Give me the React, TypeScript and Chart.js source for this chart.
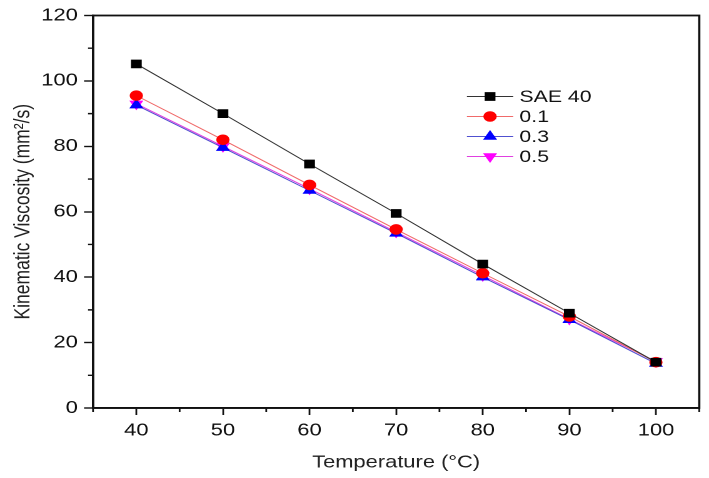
import { useEffect, useRef } from "react";
import { Chart, Plugin } from "chart.js/auto";
import { drawPoint } from "chart.js/helpers";

const temperatures = [40, 50, 60, 70, 80, 90, 100];
const sae40 = [105.2, 90, 74.6, 59.5, 44, 29, 14];
const conc01 = [95.5, 82, 68.2, 54.6, 41.2, 28, 14];
const conc03 = [92.6, 79.6, 66.5, 53.4, 40, 27, 13.6];
const conc05 = [93, 80, 67, 53.8, 40.5, 27.2, 14.2];

const xTicks = [40, 50, 60, 70, 80, 90, 100];
const xMinorTicks = [35, 45, 55, 65, 75, 85, 95, 105];
const yTicks = [0, 20, 40, 60, 80, 100, 120];
const yMinorTicks = [10, 30, 50, 70, 90, 110];

const FONT = "'Liberation Sans', Arial, sans-serif";
// the reference picture is stretched sideways, so the canvas is drawn narrower and scaled by css
const STRETCH = 1.25;
const W = 709;
const H = 478;
const INNER_W = Math.round(W / STRETCH);

// outer box + minor ticks
const framePlugin: Plugin = {
  id: "frame",
  afterDraw(chart) {
    const { ctx, chartArea } = chart;
    const x = chart.scales.x;
    const y = chart.scales.y;
    ctx.save();
    ctx.strokeStyle = "#111";
    ctx.lineWidth = 1.8;
    ctx.strokeRect(chartArea.left, chartArea.top, chartArea.right - chartArea.left, chartArea.bottom - chartArea.top);
    ctx.lineWidth = 1.4;
    ctx.beginPath();
    xMinorTicks.forEach((v) => {
      const px = x.getPixelForValue(v);
      ctx.moveTo(px, chartArea.bottom);
      ctx.lineTo(px, chartArea.bottom + 4);
    });
    yMinorTicks.forEach((v) => {
      const py = y.getPixelForValue(v);
      ctx.moveTo(chartArea.left, py);
      ctx.lineTo(chartArea.left - 4, py);
    });
    ctx.stroke();
    ctx.restore();
  },
};

// origin-style legend: line with marker in the middle
const legendPlugin: Plugin = {
  id: "lineLegend",
  afterDraw(chart) {
    const { ctx, chartArea } = chart;
    const x0 = chartArea.left + 299;
    const y0 = chartArea.top + 81;
    ctx.save();
    ctx.font = `17px ${FONT}`;
    ctx.textBaseline = "middle";
    chart.data.datasets.forEach((ds: any, i) => {
      const yy = y0 + i * 20;
      ctx.strokeStyle = ds.borderColor;
      ctx.lineWidth = 1;
      ctx.beginPath();
      ctx.moveTo(x0, yy);
      ctx.lineTo(x0 + 37, yy);
      ctx.stroke();
      ctx.fillStyle = ds.pointBackgroundColor;
      ctx.strokeStyle = ds.pointBackgroundColor;
      drawPoint(ctx, { pointStyle: ds.pointStyle, radius: ds.pointRadius, rotation: ds.pointRotation || 0, borderWidth: 1 }, x0 + 18.5, yy);
      ctx.fillStyle = "#111";
      ctx.fillText(ds.label, x0 + 42, yy + 1);
    });
    ctx.restore();
  },
};

export default function App() {
  const canvasRef = useRef<HTMLCanvasElement>(null);

  useEffect(() => {
    if (!canvasRef.current) return;
    const series = [
      { label: "SAE 40", data: sae40, line: "#333333", fill: "#000000", style: "rect", rot: 0, r: 5.4 },
      { label: "0.1", data: conc01, line: "#f06a6a", fill: "#ff0000", style: "circle", rot: 0, r: 4.8 },
      { label: "0.3", data: conc03, line: "#5050d0", fill: "#0000ff", style: "triangle", rot: 0, r: 5.5 },
      { label: "0.5", data: conc05, line: "#e040e0", fill: "#ff00ff", style: "triangle", rot: 180, r: 5.5 },
    ];
    const chart = new Chart(canvasRef.current, {
      type: "line",
      data: {
        datasets: series.map((s) => ({
          label: s.label,
          data: temperatures.map((t, i) => ({ x: t, y: s.data[i] })),
          borderColor: s.line,
          borderWidth: 1,
          pointStyle: s.style as any,
          pointRotation: s.rot,
          pointRadius: s.r,
          pointBackgroundColor: s.fill,
          pointBorderColor: s.fill,
          pointBorderWidth: 1,
          tension: 0,
        })),
      },
      options: {
        animation: false,
        responsive: false,
        maintainAspectRatio: false,
        devicePixelRatio: 2,
        layout: { padding: { top: 15, right: 7.8, left: 0, bottom: 0 } },
        plugins: {
          legend: { display: false },
          tooltip: { enabled: false },
        },
        scales: {
          x: {
            type: "linear",
            min: 35,
            max: 105,
            afterBuildTicks: (scale) => {
              scale.ticks = xTicks.map((v) => ({ value: v }));
            },
            afterFit: (scale) => {
              scale.height = 70;
            },
            grid: { drawOnChartArea: false, tickLength: 7, tickWidth: 1.4, tickColor: "#111" },
            border: { color: "#111", width: 1.8 },
            ticks: { font: { family: FONT, size: 17.5 }, color: "#111", padding: 5, maxRotation: 0 },
            title: {
              display: true,
              text: "Temperature (°C)",
              font: { family: FONT, size: 17.5 },
              color: "#222",
              padding: { top: 1, bottom: 5 },
            },
          },
          y: {
            type: "linear",
            min: 0,
            max: 120,
            afterBuildTicks: (scale) => {
              scale.ticks = yTicks.map((v) => ({ value: v }));
            },
            afterFit: (scale) => {
              scale.width = 74.4;
            },
            grid: { drawOnChartArea: false, tickLength: 7.2, tickWidth: 1.4, tickColor: "#111" },
            border: { color: "#111", width: 1.8 },
            ticks: { font: { family: FONT, size: 17.5 }, color: "#111", padding: 5 },
            title: {
              display: true,
              text: "Kinematic Viscosity (mm²/s)",
              font: { family: FONT, size: 17.5 },
              color: "#222",
              padding: { top: 8, bottom: 0 },
            },
          },
        },
      },
      plugins: [framePlugin, legendPlugin],
    });
    return () => chart.destroy();
  }, []);

  return (
    <div style={{ position: "absolute", left: 0, top: 0, width: W, height: H, background: "#fff" }}>
      <canvas ref={canvasRef} width={INNER_W} height={H} style={{ width: W, height: H, display: "block" }} />
    </div>
  );
}
